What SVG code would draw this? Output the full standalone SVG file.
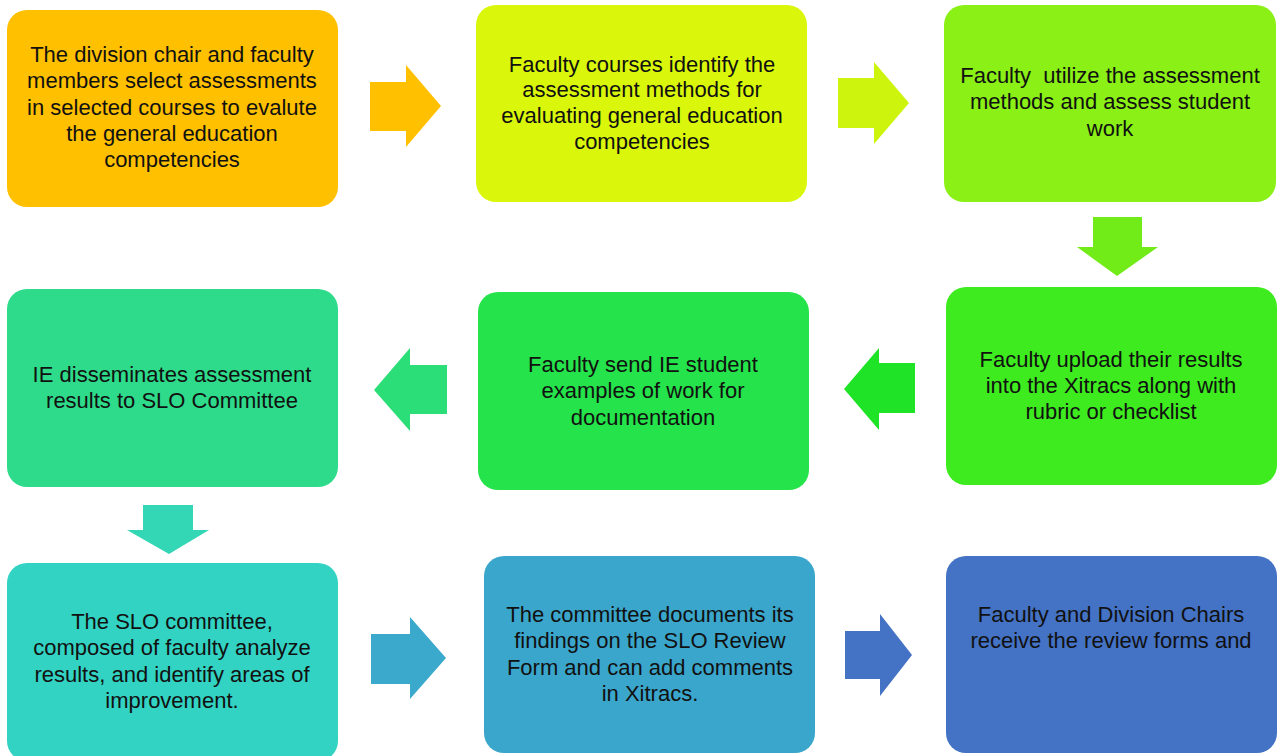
<svg xmlns="http://www.w3.org/2000/svg" width="1280" height="756" viewBox="0 0 1280 756">
<style>
.box{stroke:none}
.t{font-family:"Liberation Sans",Arial,sans-serif;font-size:22px;fill:#111;text-anchor:middle}
</style>
<rect width="1280" height="756" fill="#fff"/>
<g id="connectors">
<path d="M370,82 H406 V65 L441,106 L406,147 V131 H370 Z" fill="#FFC000"/>
<path d="M838,78 H874 V62 L909,103 L874,144 V128 H838 Z" fill="#CCF40C"/>
<path d="M1093,217 H1142 V247 H1158 L1117,276 L1077,247 H1093 Z" fill="#72EC18"/>
<path d="M915,363 H879 V348 L844,389 L879,430 V413 H915 Z" fill="#1FE326"/>
<path d="M447,365 H410 V348 L374,390 L410,431 V414 H447 Z" fill="#2BDE77"/>
<path d="M143,505 H193 V530 H209 L169,554 L127,530 H143 Z" fill="#33D6B5"/>
<path d="M371,634 H410 V617 L446,658 L410,699 V684 H371 Z" fill="#3AA9CC"/>
<path d="M845,631 H880 V614 L912,655 L880,696 V679 H845 Z" fill="#4472C4"/>
</g>
<g id="node1">
<rect class="box" x="7" y="10" width="331" height="197" rx="20" fill="#FFC000"/>
<text class="t" x="172" y="62">The division chair and faculty</text>
<text class="t" x="172" y="88">members select assessments</text>
<text class="t" x="172" y="115">in selected courses to evalute</text>
<text class="t" x="172" y="141">the general education</text>
<text class="t" x="172" y="167">competencies</text>
</g>
<g id="node2">
<rect class="box" x="476" y="5" width="331" height="197" rx="20" fill="#DAF70B"/>
<text class="t" x="642" y="72">Faculty courses identify the</text>
<text class="t" x="642" y="97">assessment methods for</text>
<text class="t" x="642" y="123">evaluating general education</text>
<text class="t" x="642" y="149">competencies</text>
</g>
<g id="node3">
<rect class="box" x="944" y="5" width="332" height="197" rx="20" fill="#8AF016"/>
<text class="t" x="1110" y="83" xml:space="preserve">Faculty  utilize the assessment</text>
<text class="t" x="1110" y="109">methods and assess student</text>
<text class="t" x="1110" y="136">work</text>
</g>
<g id="node4">
<rect class="box" x="946" y="287" width="331" height="198" rx="20" fill="#3DEB1F"/>
<text class="t" x="1111" y="367">Faculty upload their results</text>
<text class="t" x="1111" y="393">into the Xitracs along with</text>
<text class="t" x="1111" y="419">rubric or checklist</text>
</g>
<g id="node5">
<rect class="box" x="478" y="292" width="331" height="198" rx="20" fill="#25E34A"/>
<text class="t" x="643" y="372">Faculty send IE student</text>
<text class="t" x="643" y="398">examples of work for</text>
<text class="t" x="643" y="425">documentation</text>
</g>
<g id="node6">
<rect class="box" x="7" y="289" width="331" height="198" rx="20" fill="#2EDB8A"/>
<text class="t" x="172" y="382">IE disseminates assessment</text>
<text class="t" x="172" y="408">results to SLO Committee</text>
</g>
<g id="node7">
<rect class="box" x="7" y="563" width="331" height="198" rx="20" fill="#33D3C3"/>
<text class="t" x="172" y="629">The SLO committee,</text>
<text class="t" x="172" y="655">composed of faculty analyze</text>
<text class="t" x="172" y="682">results, and identify areas of</text>
<text class="t" x="172" y="708">improvement.</text>
</g>
<g id="node8">
<rect class="box" x="484" y="556" width="331" height="197" rx="20" fill="#3BA6CB"/>
<text class="t" x="650" y="622">The committee documents its</text>
<text class="t" x="650" y="648">findings on the SLO Review</text>
<text class="t" x="650" y="675">Form and can add comments</text>
<text class="t" x="650" y="701">in Xitracs.</text>
</g>
<g id="node9">
<rect class="box" x="946" y="556" width="331" height="197" rx="20" fill="#4472C4"/>
<text class="t" x="1111" y="622">Faculty and Division Chairs</text>
<text class="t" x="1111" y="648">receive the review forms and</text>
</g>
</svg>
